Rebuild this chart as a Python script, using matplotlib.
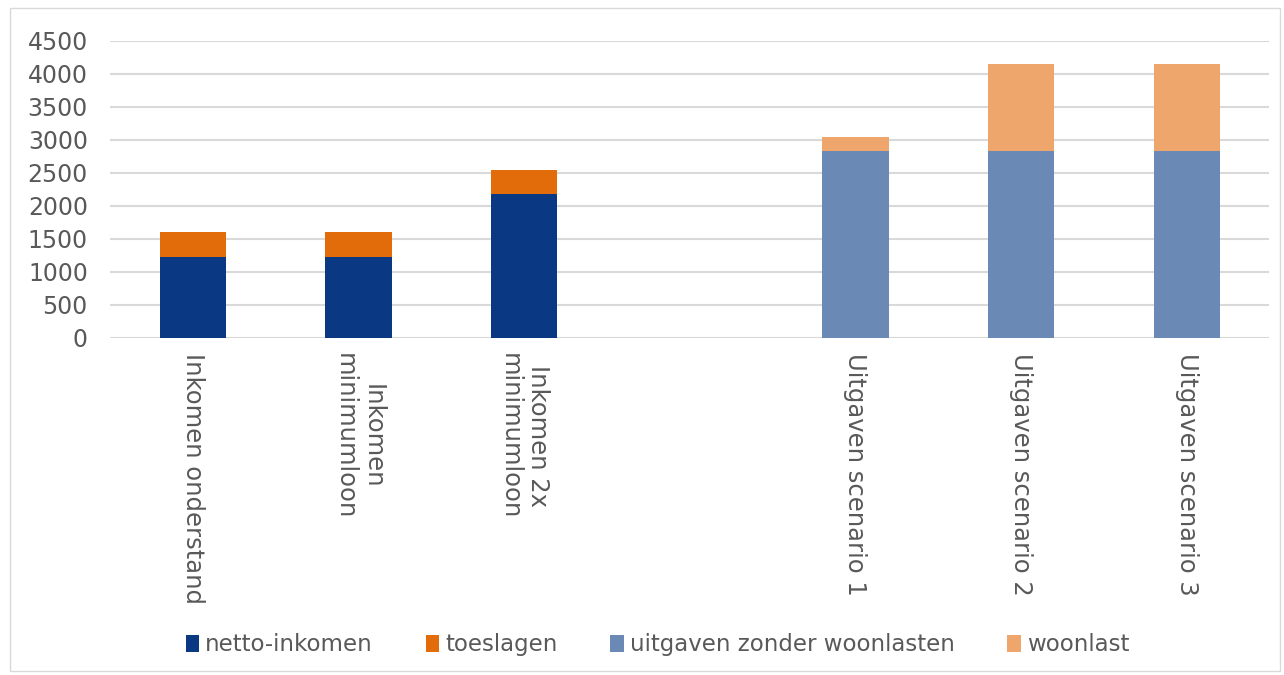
import matplotlib.pyplot as plt
import numpy as np
from matplotlib.patches import Rectangle

categories = ["Inkomen onderstand", "Inkomen\nminimumloon", "Inkomen 2x\nminimumloon", "",
              "Uitgaven scenario 1", "Uitgaven scenario 2", "Uitgaven scenario 3"]
netto_inkomen = [1230, 1230, 2175, 0, 0, 0, 0]
toeslagen = [380, 380, 365, 0, 0, 0, 0]
uitgaven_zonder_woonlasten = [0, 0, 0, 0, 2840, 2840, 2840]
woonlast = [0, 0, 0, 0, 200, 1305, 1305]

series = [
    ("netto-inkomen", netto_inkomen, "#0a3883"),
    ("toeslagen", toeslagen, "#e36c0a"),
    ("uitgaven zonder woonlasten", uitgaven_zonder_woonlasten, "#6a89b4"),
    ("woonlast", woonlast, "#eea66d"),
]

plt.rcParams["font.family"] = ["DejaVu Sans"]
fig = plt.figure(figsize=(12.84, 6.75), dpi=100)
fig.patches.append(Rectangle((0.008, 0.006), 0.989, 0.982, transform=fig.transFigure,
                             fill=False, edgecolor="#d9d9d9", lw=1))
ax = fig.add_axes([0.0857, 0.4993, 0.903, 0.4400])

x = np.arange(len(categories))
bottom = np.zeros(len(categories))
handles = []
for name, vals, col in series:
    vals = np.array(vals, dtype=float)
    b = ax.bar(x, vals, width=0.4, bottom=bottom, color=col, label=name, zorder=3)
    bottom += vals
    handles.append(b)

ax.set_xlim(-0.5, len(categories) - 0.5)
ax.set_ylim(0, 4500)
ax.set_yticks(np.arange(0, 4501, 500))
ax.yaxis.grid(True, color="#d9d9d9", lw=1.5, zorder=0)
for s in ax.spines.values():
    s.set_visible(False)
ax.tick_params(axis="both", length=0, colors="#595959", labelsize=17)
ax.tick_params(axis="y", pad=16)
ax.set_xticks(x)
ax.set_xticklabels(categories, rotation=-90, va="top", ha="center",
                   multialignment="center", fontsize=17.5, color="#595959")
ax.tick_params(axis="x", pad=11)

fig.legend(handles=handles, labels=[s[0] for s in series], loc="center",
           bbox_to_anchor=(0.512, 0.045), ncol=4, frameon=False, fontsize=16.5,
           handlelength=0.6, handleheight=0.75, handletextpad=0.25, columnspacing=2.3,
           labelcolor="#595959")

fig.savefig("out.png", dpi=100)
